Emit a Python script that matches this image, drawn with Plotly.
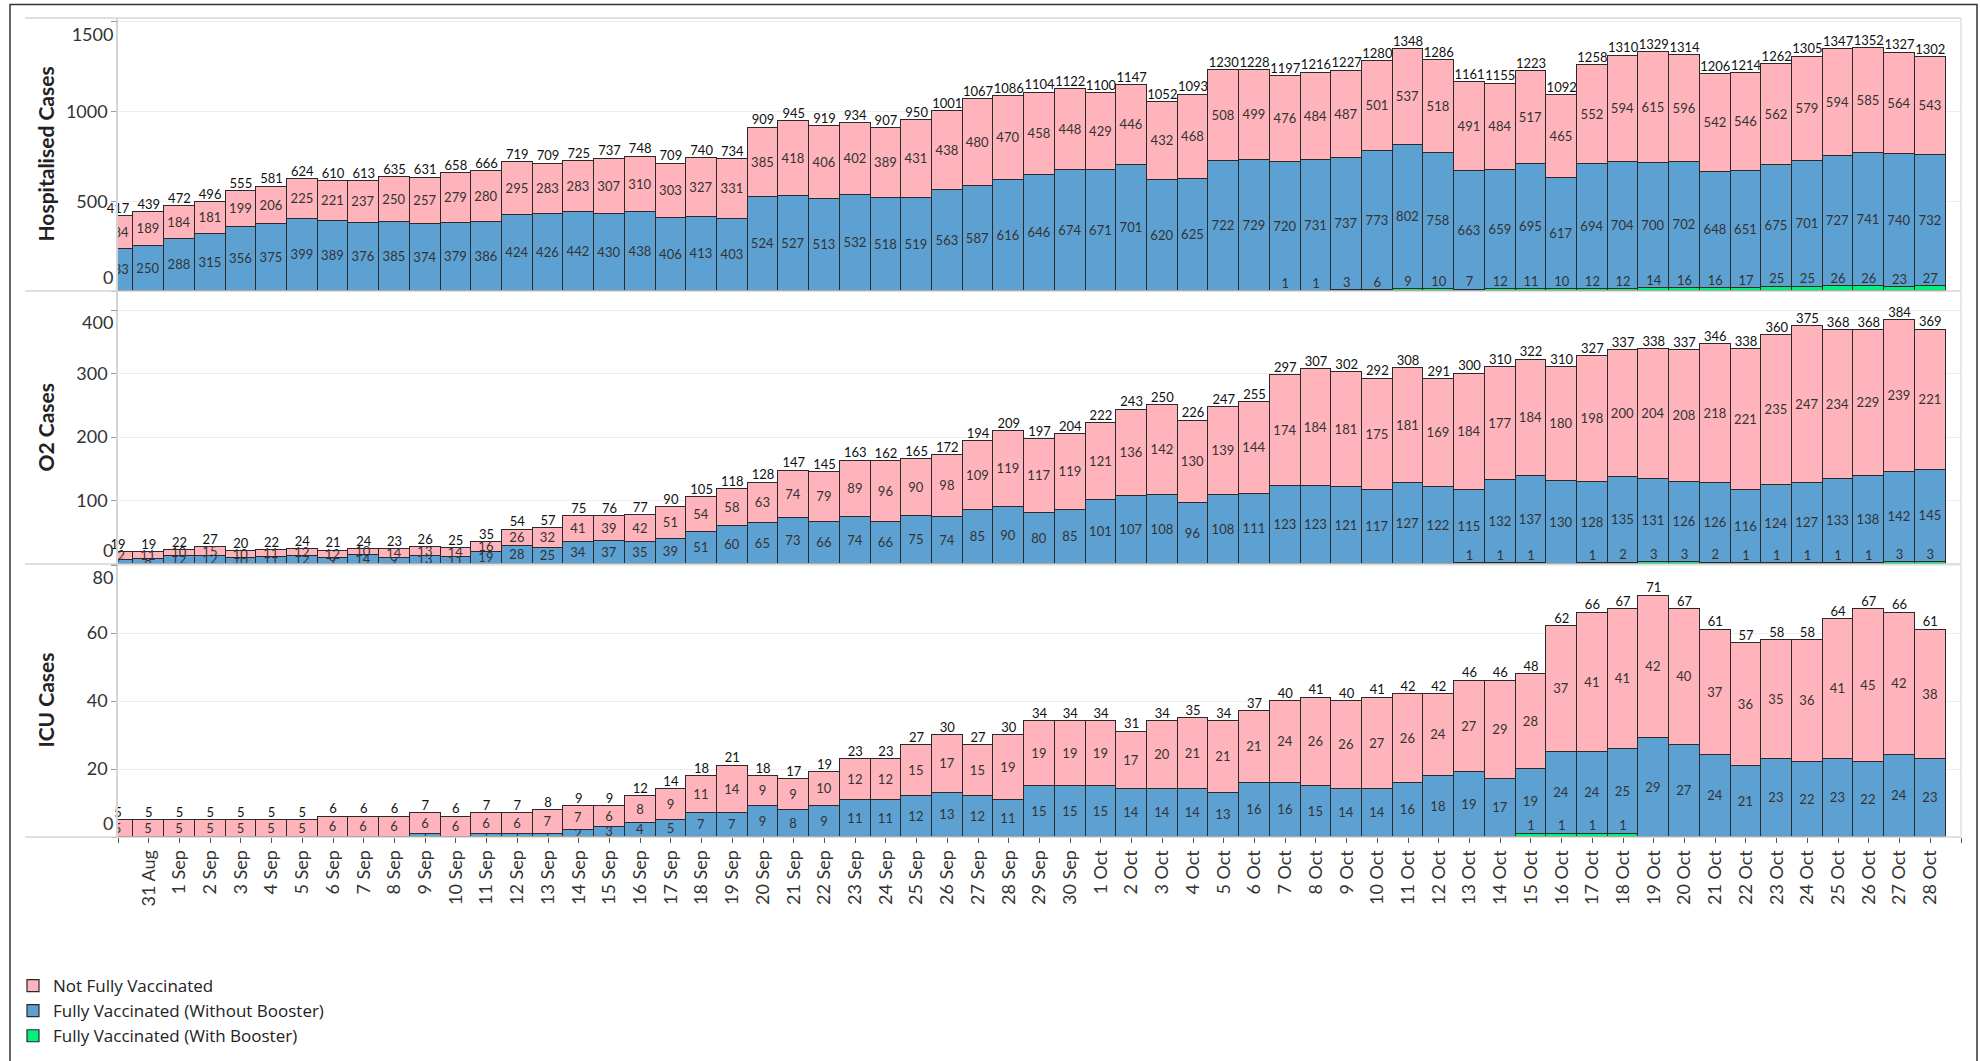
import plotly.graph_objects as go
from plotly.subplots import make_subplots

# ---------------- data ----------------
dates = ["30 Aug", "31 Aug",
         "1 Sep", "2 Sep", "3 Sep", "4 Sep", "5 Sep", "6 Sep", "7 Sep", "8 Sep", "9 Sep", "10 Sep",
         "11 Sep", "12 Sep", "13 Sep", "14 Sep", "15 Sep", "16 Sep", "17 Sep", "18 Sep", "19 Sep", "20 Sep",
         "21 Sep", "22 Sep", "23 Sep", "24 Sep", "25 Sep", "26 Sep", "27 Sep", "28 Sep", "29 Sep", "30 Sep",
         "1 Oct", "2 Oct", "3 Oct", "4 Oct", "5 Oct", "6 Oct", "7 Oct", "8 Oct", "9 Oct", "10 Oct",
         "11 Oct", "12 Oct", "13 Oct", "14 Oct", "15 Oct", "16 Oct", "17 Oct", "18 Oct", "19 Oct", "20 Oct",
         "21 Oct", "22 Oct", "23 Oct", "24 Oct", "25 Oct", "26 Oct", "27 Oct", "28 Oct"]

series_names = ["Not Fully Vaccinated", "Fully Vaccinated (Without Booster)", "Fully Vaccinated (With Booster)"]

hosp_not = [184, 189, 184, 181, 199, 206, 225, 221, 237, 250, 257, 279, 280, 295, 283, 283, 307, 310, 303, 327,
            331, 385, 418, 406, 402, 389, 431, 438, 480, 470, 458, 448, 429, 446, 432, 468, 508, 499, 476, 484,
            487, 501, 537, 518, 491, 484, 517, 465, 552, 594, 615, 596, 542, 546, 562, 579, 594, 585, 564, 543]
hosp_full = [233, 250, 288, 315, 356, 375, 399, 389, 376, 385, 374, 379, 386, 424, 426, 442, 430, 438, 406, 413,
             403, 524, 527, 513, 532, 518, 519, 563, 587, 616, 646, 674, 671, 701, 620, 625, 722, 729, 720, 731,
             737, 773, 802, 758, 663, 659, 695, 617, 694, 704, 700, 702, 648, 651, 675, 701, 727, 741, 740, 732]
hosp_boost = [0, 0, 0, 0, 0, 0, 0, 0, 0, 0, 0, 0, 0, 0, 0, 0, 0, 0, 0, 0,
              0, 0, 0, 0, 0, 0, 0, 0, 0, 0, 0, 0, 0, 0, 0, 0, 0, 0, 1, 1,
              3, 6, 9, 10, 7, 12, 11, 10, 12, 12, 14, 16, 16, 17, 25, 25, 26, 26, 23, 27]

o2_not = [12, 11, 10, 15, 10, 11, 12, 12, 10, 14, 13, 14, 16, 26, 32, 41, 39, 42, 51, 54,
          58, 63, 74, 79, 89, 96, 90, 98, 109, 119, 117, 119, 121, 136, 142, 130, 139, 144, 174, 184,
          181, 175, 181, 169, 184, 177, 184, 180, 198, 200, 204, 208, 218, 221, 235, 247, 234, 229, 239, 221]
o2_full = [7, 8, 12, 12, 10, 11, 12, 9, 14, 9, 13, 11, 19, 28, 25, 34, 37, 35, 39, 51,
           60, 65, 73, 66, 74, 66, 75, 74, 85, 90, 80, 85, 101, 107, 108, 96, 108, 111, 123, 123,
           121, 117, 127, 122, 115, 132, 137, 130, 128, 135, 131, 126, 126, 116, 124, 127, 133, 138, 142, 145]
o2_boost = [0, 0, 0, 0, 0, 0, 0, 0, 0, 0, 0, 0, 0, 0, 0, 0, 0, 0, 0, 0,
            0, 0, 0, 0, 0, 0, 0, 0, 0, 0, 0, 0, 0, 0, 0, 0, 0, 0, 0, 0,
            0, 0, 0, 0, 1, 1, 1, 0, 1, 2, 3, 3, 2, 1, 1, 1, 1, 1, 3, 3]

icu_not = [5, 5, 5, 5, 5, 5, 5, 6, 6, 6, 6, 6, 6, 6, 7, 7, 6, 8, 9, 11,
           14, 9, 9, 10, 12, 12, 15, 17, 15, 19, 19, 19, 19, 17, 20, 21, 21, 21, 24, 26,
           26, 27, 26, 24, 27, 29, 28, 37, 41, 41, 42, 40, 37, 36, 35, 36, 41, 45, 42, 38]
icu_full = [0, 0, 0, 0, 0, 0, 0, 0, 0, 0, 1, 0, 1, 1, 1, 2, 3, 4, 5, 7,
            7, 9, 8, 9, 11, 11, 12, 13, 12, 11, 15, 15, 15, 14, 14, 14, 13, 16, 16, 15,
            14, 14, 16, 18, 19, 17, 19, 24, 24, 25, 29, 27, 24, 21, 23, 22, 23, 22, 24, 23]
icu_boost = [0, 0, 0, 0, 0, 0, 0, 0, 0, 0, 0, 0, 0, 0, 0, 0, 0, 0, 0, 0,
             0, 0, 0, 0, 0, 0, 0, 0, 0, 0, 0, 0, 0, 0, 0, 0, 0, 0, 0, 0,
             0, 0, 0, 0, 0, 0, 1, 1, 1, 1, 0, 0, 0, 0, 0, 0, 0, 0, 0, 0]

hosp_ticks = [0, 500, 1000, 1500]
o2_ticks = [0, 100, 200, 300, 400]
icu_ticks = [0, 20, 40, 60, 80]

# ---------------- style ----------------
W, H = 1980, 1061
ML, MR, MT, MB = 118, 19, 18, 224
PW, PH = W - ML - MR, H - MT - MB
PINK, BLUE, GREEN = "#FFB3BA", "#5DA1D3", "#00F07A"
EDGE = "#2a2a2a"
FONT = "Lato"
TXT = "#333333"
TICK_SIZE = 18
TITLE_SIZE = 21


def px_x(p):
    return (p - ML) / PW


def px_y(p):
    return (MT + PH - p) / PH


def seg_text(vals):
    return [str(v) if v else "" for v in vals]


rows = [
    ("Hospitalised Cases", hosp_not, hosp_full, hosp_boost, hosp_ticks, 1520),
    ("O2 Cases", o2_not, o2_full, o2_boost, o2_ticks, 430),
    ("ICU Cases", icu_not, icu_full, icu_boost, icu_ticks, 80.3),
]

xpos = list(range(len(dates)))

fig = make_subplots(rows=3, cols=1, shared_xaxes=True, vertical_spacing=0)

annotations = []
for r, (title, nf, fv, fb, ticks, ymax) in enumerate(rows, start=1):
    first = r == 1
    line = dict(color=EDGE, width=1.2)
    seg_font = dict(family=FONT, size=13, color=TXT)
    fig.add_trace(go.Bar(x=xpos, y=fb, name=series_names[2], marker=dict(color=GREEN, line=line),
                         legendgroup="g", legendrank=3, showlegend=first, hoverinfo="skip"),
                  row=r, col=1)
    fig.add_trace(go.Bar(x=xpos, y=fv, name=series_names[1], marker=dict(color=BLUE, line=line),
                         text=seg_text(fv), textposition="inside", insidetextanchor="middle",
                         textangle=0, constraintext="none", textfont=seg_font,
                         legendgroup="b", legendrank=2, showlegend=first, hoverinfo="skip"),
                  row=r, col=1)
    fig.add_trace(go.Bar(x=xpos, y=nf, name=series_names[0], marker=dict(color=PINK, line=line),
                         text=seg_text(nf), textposition="inside", insidetextanchor="middle",
                         textangle=0, constraintext="none", textfont=seg_font,
                         legendgroup="p", legendrank=1, showlegend=first, hoverinfo="skip"),
                  row=r, col=1)
    totals = [a + b + c for a, b, c in zip(nf, fv, fb)]
    fig.add_trace(go.Scatter(x=xpos, y=totals, mode="text", text=[str(t) for t in totals],
                             textposition="top center", textfont=dict(family=FONT, size=13, color="#111111"),
                             cliponaxis=False, showlegend=False, hoverinfo="skip"),
                  row=r, col=1)
    fig.add_trace(go.Scatter(x=xpos, y=fb, mode="text", text=seg_text(fb),
                             textposition="top center", textfont=seg_font,
                             cliponaxis=False, showlegend=False, hoverinfo="skip"),
                  row=r, col=1)

    yname = "yaxis" if r == 1 else f"yaxis{r}"
    xname = "xaxis" if r == 1 else f"xaxis{r}"
    base = "y" if r == 1 else f"y{r}"
    fig.layout[yname].update(
        range=[0, ymax], tickmode="array", tickvals=ticks,
        ticktext=[""] + [str(t) for t in ticks[1:-1]] + [""],
        showgrid=True, gridcolor="#EDEDED", gridwidth=1, zeroline=False,
        showline=True, linecolor="#D4D4D4", linewidth=1.5,
        ticks="outside", ticklen=5, tickcolor="#9A9A9A",
        tickfont=dict(family=FONT, size=TICK_SIZE, color=TXT),
        automargin=False, fixedrange=True,
    )
    # row header (axis title), aligned in one column like the original
    annotations.append(dict(text=f"<b>{title}</b>", xref="paper", yref=f"{base} domain",
                            x=px_x(45), y=0.5, xanchor="center", yanchor="middle", textangle=-90,
                            showarrow=False, font=dict(family=FONT, size=TITLE_SIZE, color="#222222")))
    last = r == 3
    fig.layout[xname].update(
        range=[0, len(dates)], showgrid=False, zeroline=False, showline=False,
        tickmode="array", tickvals=list(range(len(dates) + 1)),
        ticktext=[""] + dates[1:] + [""],
        showticklabels=last, ticks="outside" if last else "", ticklen=5, tickcolor="#555555",
        tickangle=-90, tickfont=dict(family=FONT, size=TICK_SIZE, color=TXT),
        automargin=False, fixedrange=True,
    )

# overlay axes carrying the edge tick labels (0 and top value), nudged inside the pane like the original
ov = 4
for r, (title, nf, fv, fb, ticks, ymax) in enumerate(rows, start=1):
    base = "y" if r == 1 else f"y{r}"
    xa = "x" if r == 1 else f"x{r}"
    for val, pos in ((ticks[0], "outside top"), (ticks[-1], "outside bottom")):
        fig.layout[f"yaxis{ov}"] = dict(
            overlaying=base, anchor=xa, side="left", range=[0, ymax],
            tickmode="array", tickvals=[val], ticktext=[str(val)], ticklabelposition=pos,
            showgrid=False, zeroline=False, showline=False,
            ticks="outside", ticklen=5, tickcolor="#9A9A9A",
            tickfont=dict(family=FONT, size=TICK_SIZE, color=TXT),
            automargin=False, fixedrange=True,
        )
        fig.add_trace(go.Scatter(x=[], y=[], xaxis=xa, yaxis=f"y{ov}", showlegend=False, hoverinfo="skip"))
        ov += 1

shapes = []
# outer border
shapes.append(dict(type="rect", xref="paper", yref="paper", x0=px_x(10), x1=px_x(1977),
                   y0=px_y(1075), y1=px_y(4.5), line=dict(color="#333333", width=1.5), layer="above"))
# pane separators
for yy in (1, 2 / 3, 1 / 3, 0):
    shapes.append(dict(type="line", xref="paper", yref="paper", x0=px_x(25), x1=1, y0=yy, y1=yy,
                       line=dict(color="#D4D4D4", width=1.5), layer="above"))
shapes.append(dict(type="line", xref="paper", yref="paper", x0=1, x1=1, y0=0, y1=1,
                   line=dict(color="#E0E0E0", width=1.5), layer="above"))

fig.update_layout(
    width=W, height=H, autosize=False,
    margin=dict(l=ML, r=MR, t=MT, b=MB, autoexpand=False),
    barmode="stack", bargap=0,
    plot_bgcolor="white", paper_bgcolor="white",
    font=dict(family=FONT, size=16, color=TXT),
    shapes=shapes,
    annotations=annotations,
    showlegend=True,
    legend=dict(xref="container", yref="container", x=13 / W, xanchor="left",
                y=1 - 968 / H, yanchor="top",
                traceorder="grouped", tracegroupgap=0, bgcolor="rgba(0,0,0,0)",
                font=dict(family="Open Sans", size=17, color="#222222")),
    hovermode=False,
)

fig.write_html("out.html", post_script="document.body.style.margin='0';",
               config={"displayModeBar": False})
